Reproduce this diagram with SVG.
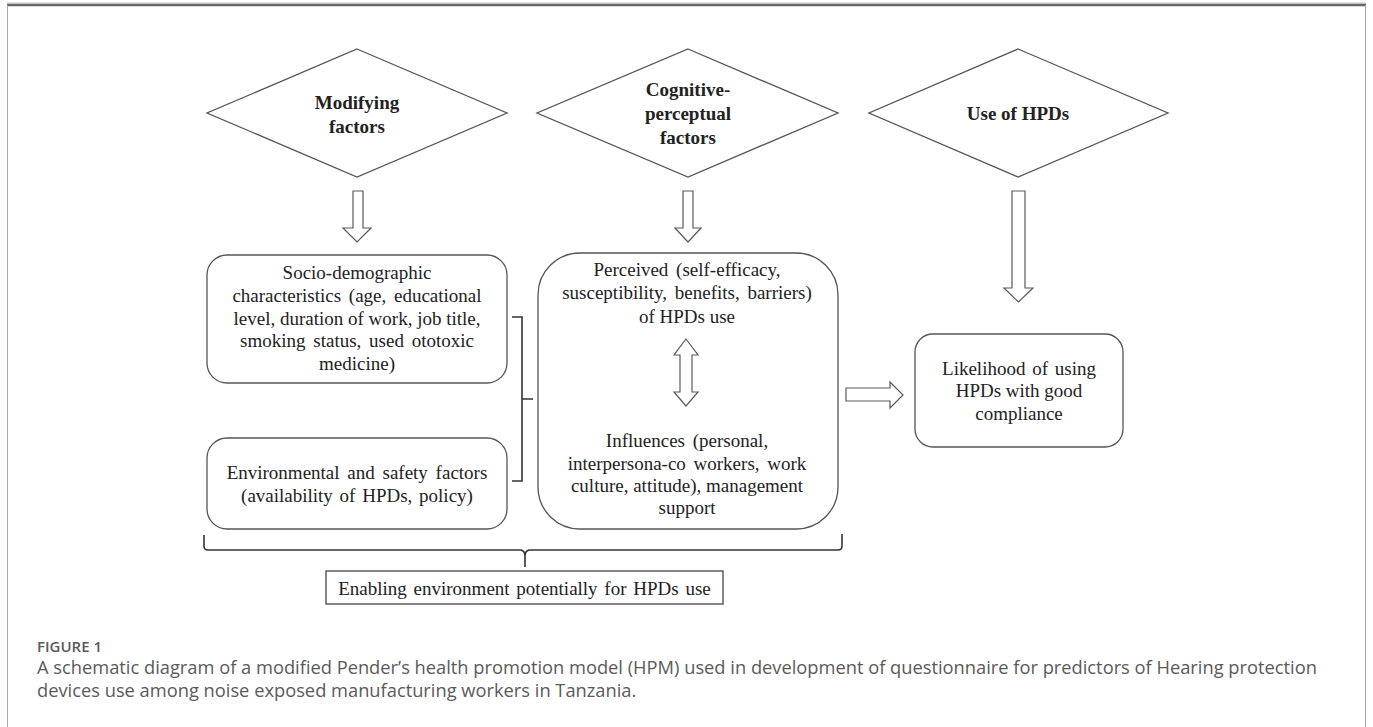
<svg xmlns="http://www.w3.org/2000/svg" width="1373" height="727" viewBox="0 0 1373 727">
<style>
.shape{fill:#fff;stroke:#555;stroke-width:1.3}
.arrow{fill:#fff;stroke:#5a5a5a;stroke-width:1.2}
.t{font-family:"Liberation Serif","Times New Roman",serif;font-size:19px;fill:#222;text-anchor:middle}
.tb{font-family:"Liberation Serif","Times New Roman",serif;font-size:19px;font-weight:bold;fill:#222;text-anchor:middle}
.brace{fill:none;stroke:#333;stroke-width:1.6}
.cap{font-family:"Open Sans","Noto Sans",sans-serif;fill:#5a5a5a}
</style>
<rect x="0" y="0" width="1373" height="727" fill="#fff"/>
<g id="frame">
<line x1="7" y1="3" x2="1366" y2="3" stroke="#ccc" stroke-width="1"/>
<line x1="7" y1="5" x2="1366" y2="5" stroke="#666" stroke-width="2.5"/>
<line x1="7.5" y1="5" x2="7.5" y2="727" stroke="#aaa" stroke-width="1"/>
<line x1="1365.5" y1="5" x2="1365.5" y2="727" stroke="#aaa" stroke-width="1"/>
</g>
<g id="diamond-modifying">
<polygon class="shape" points="357,49 507,113 357,177 207,113"/>
<text class="tb" x="357" y="109">Modifying</text>
<text class="tb" x="357" y="133">factors</text>
</g>
<g id="diamond-cognitive">
<polygon class="shape" points="688,49 838,113 688,177 537,113"/>
<text class="tb" x="688" y="96">Cognitive-</text>
<text class="tb" x="688" y="120">perceptual</text>
<text class="tb" x="688" y="144">factors</text>
</g>
<g id="diamond-use">
<polygon class="shape" points="1018,49 1168,113 1018,177 869,113"/>
<text class="tb" x="1018" y="120">Use of HPDs</text>
</g>
<g id="box-socio">
<rect class="shape" x="207" y="255" width="300" height="128" rx="20"/>
<text class="t" x="357" y="279">Socio-demographic</text>
<text class="t" x="357" y="302" word-spacing="3">characteristics (age, educational</text>
<text class="t" x="357" y="325">level, duration of work, job title,</text>
<text class="t" x="357" y="347" word-spacing="3">smoking status, used ototoxic</text>
<text class="t" x="357" y="370">medicine)</text>
</g>
<g id="box-environmental">
<rect class="shape" x="207" y="438" width="300" height="91" rx="20"/>
<text class="t" x="357" y="479" word-spacing="3">Environmental and safety factors</text>
<text class="t" x="357" y="502" word-spacing="2">(availability of HPDs, policy)</text>
</g>
<g id="box-perceived">
<rect class="shape" x="538" y="253" width="300" height="276" rx="42"/>
<text class="t" x="687" y="276" word-spacing="3">Perceived (self-efficacy,</text>
<text class="t" x="687" y="299" word-spacing="3">susceptibility, benefits, barriers)</text>
<text class="t" x="687" y="323">of HPDs use</text>
<text class="t" x="687" y="447" word-spacing="3">Influences (personal,</text>
<text class="t" x="687" y="470" word-spacing="3">interpersona-co workers, work</text>
<text class="t" x="687" y="492">culture, attitude), management</text>
<text class="t" x="687" y="514">support</text>
</g>
<g id="box-likelihood">
<rect class="shape" x="915" y="334" width="208" height="113" rx="18"/>
<text class="t" x="1019" y="375" word-spacing="2">Likelihood of using</text>
<text class="t" x="1019" y="397">HPDs with good</text>
<text class="t" x="1019" y="420">compliance</text>
</g>
<g id="box-enabling">
<rect x="326" y="571" width="397" height="33" fill="#fff" stroke="#444" stroke-width="1.3"/>
<text class="t" x="524.5" y="595" word-spacing="2">Enabling environment potentially for HPDs use</text>
</g>
<g id="connectors">
<polygon class="arrow" points="353,191 363,191 363,228 371,228 357,242 343,228 353,228"/>
<polygon class="arrow" points="683,191 693,191 693,228 701,228 688,242 675,228 683,228"/>
<polygon class="arrow" points="1012,191 1025,191 1025,288 1033,288 1018.5,302 1004,288 1012,288"/>
<polygon class="arrow" points="686,339 698,355 692,355 692,392 698,392 686,406 674,392 680,392 680,355 674,355"/>
<polygon class="arrow" points="846,388 890,388 890,382 903,395 890,408 890,401 846,401"/>
<path class="brace" d="M512,317 H522 V481 H512 M522,399 H533" stroke="#555" stroke-width="1.2"/>
<path class="brace" d="M204,535 V546 Q204,550 208,550 H521 Q525,551 525,556 V567 M525,556 Q525,551 529,550 H838 Q842,550 842,546 V534"/>
</g>
<g id="caption">
<text class="cap" x="37" y="652" font-size="15" font-weight="600">FIGURE 1</text>
<text class="cap" x="37" y="674" font-size="18.3">A schematic diagram of a modified Pender’s health promotion model (HPM) used in development of questionnaire for predictors of Hearing protection</text>
<text class="cap" x="37" y="697" font-size="18.3">devices use among noise exposed manufacturing workers in Tanzania.</text>
</g>
</svg>
